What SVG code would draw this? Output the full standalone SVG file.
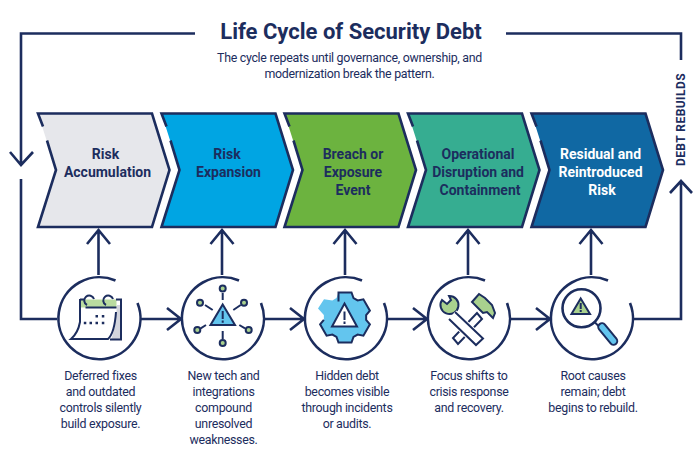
<svg xmlns="http://www.w3.org/2000/svg" width="700" height="466" viewBox="0 0 700 466">
<defs>
<style>
text{font-family:Roboto,"Liberation Sans",sans-serif;fill:#1c2d5e;text-anchor:middle}
.t{font-size:22px;font-weight:700}
.s{font-size:12.4px;letter-spacing:-.29px}
.h{font-size:14px;font-weight:700}
.w{fill:#fff}
.d{font-size:12.4px;letter-spacing:-.29px}
.l{fill:none;stroke:#1c2d5e;stroke-width:2.6}
.i{stroke:#1c2d5e;stroke-width:2;stroke-linejoin:miter}
.n{fill:none;stroke:#1c2d5e;stroke-width:2}
.f{fill:#1c2d5e}
.v{font-size:12px;font-weight:700;letter-spacing:.45px}
</style>
<path id="cf" d="M0,0H114L131.500,56.500L114,113.500H0L18,56.500Z"/>
<path id="cs" class="l" d="M5,13L0,0H114L131.500,56.500L114,113.500H0L18,56.500L9,27"/>
<path id="arc" class="l" d="M17,-38.500A41,41 0 1 0 39,-16"/>
<path id="up" class="l" d="M0,-2V-47M-11.500,-33L0,-47L11.500,-33"/>
<path id="ar" class="l" d="M0,0H41M27,-11L41,0L27,11"/>
</defs>
<g id="connectors">
<path class="l" d="M195,33.500H21V165M10,152L21,165L33,152M21,179V319H57"/>
<path class="l" d="M506,33.500H681V60M681,319V181M670,193L681,181L692,193M682.300,319H632"/>
<use href="#ar" x="140" y="319"/><use href="#ar" x="263" y="319"/><use href="#ar" x="386" y="319"/><use href="#ar" x="509" y="319"/>
<use href="#up" x="98.500" y="277"/><use href="#up" x="222" y="277"/><use href="#up" x="345" y="277"/><use href="#up" x="468" y="277"/><use href="#up" x="591" y="277"/>
</g>
<g id="title">
<text class="t" x="351" y="39">Life Cycle of Security Debt</text>
<text class="s" x="349.500" y="61.500">The cycle repeats until governance, ownership, and</text>
<text class="s" x="349.500" y="77.500">modernization break the pattern.</text>
<text class="v" transform="translate(684.500,119.500) rotate(-90)">DEBT REBUILDS</text>
</g>
<g id="step-1"><use href="#cf" x="38" y="113.500" fill="#e6e7eb"/><use href="#cs" x="38" y="113.500"/><text class="h" x="105.500" y="159">Risk</text><text class="h" x="107.500" y="177">Accumulation</text></g>
<g id="step-2"><use href="#cf" x="161.500" y="113.500" fill="#00a5e3"/><use href="#cs" x="161.500" y="113.500"/><text class="h" x="227" y="159">Risk</text><text class="h" x="228.500" y="177">Expansion</text></g>
<g id="step-3"><use href="#cf" x="284.500" y="113.500" fill="#6cb33f"/><use href="#cs" x="284.500" y="113.500"/><text class="h" x="353" y="159">Breach or</text><text class="h" x="353" y="177">Exposure</text><text class="h" x="353" y="195">Event</text></g>
<g id="step-4"><use href="#cf" x="408" y="113.500" fill="#36ad91"/><use href="#cs" x="408" y="113.500"/><text class="h" x="478" y="159">Operational</text><text class="h" x="478" y="177">Disruption and</text><text class="h" x="480" y="195">Containment</text></g>
<g id="step-5"><use href="#cf" x="531.500" y="113.500" fill="#1068a3"/><use href="#cs" x="531.500" y="113.500"/><text class="h w" x="600.500" y="159">Residual and</text><text class="h w" x="600.500" y="177">Reintroduced</text><text class="h w" x="602" y="195">Risk</text></g>

<g id="stage-1"><use href="#arc" x="98.500" y="319"/>
<path d="M117,305H120.500V339.500H111Q115,331 117,305Z" fill="#d3d5dd"/>
<path d="M80.500,299.500H116.500V307.500H80.500Z" fill="#b9dba0"/>
<path class="n" d="M116,299.500H121V339.500H110M85.500,307.500H116.500M80,299.500H85M80,299V322Q78,333 71,339H108Q114.500,333 116,312"/>
<path class="n" d="M87,305A5,5 0 1 1 94,299M106,305A5,5 0 1 1 113,299"/>
<path class="f" d="M83.800,321.800h2.500v2.500h-2.500zM89.500,321.800h2.500v2.500h-2.500zM95.500,321.800h2.500v2.500h-2.500zM101.800,321.800h2.500v2.500h-2.500zM95.500,315h2.500v2.500h-2.500zM101.800,315h2.500v2.500h-2.500z"/>
<text class="d" x="100.500" y="380">Deferred fixes</text><text class="d" x="100.500" y="396">and outdated</text><text class="d" x="100.500" y="412">controls silently</text><text class="d" x="100.500" y="428">build exposure.</text></g>

<g id="stage-2"><use href="#arc" x="222" y="319"/>
<path class="n" d="M222.700,293V300M205,305L212.700,310M240.700,305L233.300,310M206,325L200.700,328.300M239.300,325L245,328.300M222.700,331V339"/>
<g fill="#a9d18e" class="i"><circle cx="222.700" cy="288.500" r="3"/><circle cx="200" cy="302.700" r="3"/><circle cx="244" cy="302.700" r="3"/><circle cx="197.300" cy="330" r="3"/><circle cx="248.700" cy="330" r="3"/><circle cx="222.700" cy="343" r="3"/></g>
<path d="M222.700,304.500L235,325H210.500Z" fill="#63c5ee" class="i" stroke-linejoin="round"/>
<path class="f" d="M221.700,311h2v8h-2zM221.700,320.500h2v2.200h-2z"/>
<text class="d" x="223.500" y="380">New tech and</text><text class="d" x="223.500" y="396">integrations</text><text class="d" x="223.500" y="412">compound</text><text class="d" x="223.500" y="428">unresolved</text><text class="d" x="223.500" y="444">weaknesses.</text></g>

<g id="stage-3"><use href="#arc" x="345" y="319"/>
<g transform="translate(345,317.500)">
<path fill="#63c5ee" d="M-8.500,-19.500L-6.500,-25H6.500L8.500,-19.500L12.640,-17.110L18.400,-18.130L24.900,-6.870L21.140,-2.390V2.390L24.900,6.870L18.400,18.130L12.640,17.110L8.500,19.500L6.500,25H-6.500L-8.500,19.500L-12.640,17.110L-18.400,18.130L-24.900,6.870L-21.140,2.390V-2.390L-27,-9L-21,-18.130L-12.640,-17.110Z"/>
<path class="n" d="M-6.500,-16V-25H6.500L8.500,-19.500L12.640,-17.110L18.400,-18.130L24.900,-6.870L21.140,-2.390V2.390L24.900,6.870L18.400,18.130L12.640,17.110L8.500,19.500L6.500,25H-6.500L-8.500,19.500L-12.640,17.110L-18.400,18.130L-24.900,6.870L-21.140,2.390"/>
</g>
<path d="M344.500,303.500L357,326.500H332Z" fill="#fff" class="i" stroke-linejoin="round"/>
<path class="f" d="M343.500,311.500h2v8.500h-2zM343.500,321.500h2v2.400h-2z"/>
<text class="d" x="347" y="380">Hidden debt</text><text class="d" x="347" y="396">becomes visible</text><text class="d" x="347" y="412">through incidents</text><text class="d" x="347" y="428">or audits.</text></g>

<g id="stage-4"><use href="#arc" x="468" y="319"/>
<path d="M477,313L453,338L458,344L482,319Z" fill="#fff" class="i"/>
<path d="M442,300L447,304L451,300L449,296A9,9 0 1 1 442,300Z" fill="#a9d18e" class="i"/>
<path d="M455,312L483,338.500L476,345L449,319" fill="#fff" stroke="#fff" stroke-width="4"/>
<path d="M455,312L483,338.500L476,345L449,319" fill="#fff" class="i"/>
<path d="M472,302L479,294L485,298L492,305L495,313L493,318L487,312L483,313L479,309Z" fill="#a9d18e" class="i"/>
<text class="d" x="469" y="380">Focus shifts to</text><text class="d" x="469" y="396">crisis response</text><text class="d" x="469" y="412">and recovery.</text></g>

<g id="stage-5"><use href="#arc" x="591" y="319"/>
<circle cx="581.500" cy="308.300" r="19" class="l"/>
<path d="M580.700,298.500L590,314H571.500Z" fill="#a9d18e" class="i" stroke-linejoin="round"/>
<path class="f" d="M579.700,303h2v6h-2zM579.700,310h2v2h-2z"/>
<path class="n" d="M595,322.500L598.500,326" stroke-width="2.400"/>
<path d="M602,327L613.500,341" fill="none" stroke="#1c2d5e" stroke-width="9.500" stroke-linecap="round"/>
<path d="M602,327L613.500,341" fill="none" stroke="#63c5ee" stroke-width="5.500" stroke-linecap="round"/>
<text class="d" x="593" y="380">Root causes</text><text class="d" x="593" y="396">remain; debt</text><text class="d" x="593" y="412">begins to rebuild.</text></g>
</svg>
